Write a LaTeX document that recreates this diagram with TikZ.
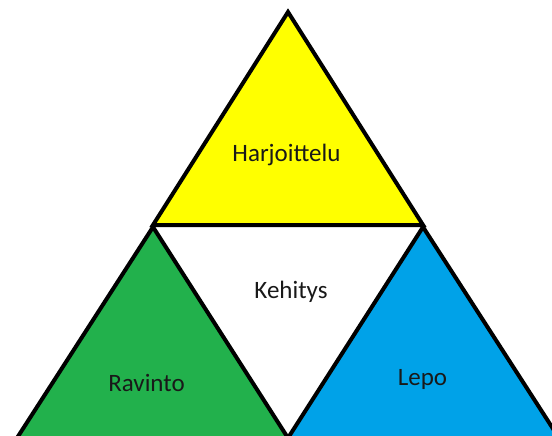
\documentclass[tikz,border=0pt]{standalone}
\usepackage{fontspec}
\setmainfont{Carlito}
\definecolor{pyellow}{RGB}{255,255,0}
\definecolor{pgreen}{RGB}{34,177,76}
\definecolor{pblue}{RGB}{0,162,232}
\tikzset{
  tri/.style={draw=black, line width=4pt, line join=miter},
  lbl/.style={anchor=base, inner sep=0pt, font=\fontsize{25}{30}\selectfont, text=black!90}
}
\begin{document}
\begin{tikzpicture}[x=1pt,y=-1pt]
\useasboundingbox (0,0) rectangle (552,436);
\clip (0,0) rectangle (552,436);
\fill[white] (0,0) rectangle (552,436);
% yellow top triangle
\coordinate (A) at (288,12);
\coordinate (L) at (153,225);
\coordinate (R) at (423,225);
\filldraw[tri, fill=pyellow] (A) -- (L) -- (R) -- cycle;
% green left triangle
\coordinate (G1) at (153,227);
\coordinate (M) at (288,438);
\coordinate (G3) at (17,438);
\filldraw[tri, fill=pgreen] (G1) -- (M) -- (G3) -- cycle;
% blue right triangle
\coordinate (B1) at (423,227);
\coordinate (B3) at (559,438);
\filldraw[tri, fill=pblue] (B1) -- (M) -- (B3) -- cycle;
% labels
\node[lbl] (harj) at (286.5,161) {Harjoittelu};
\node[lbl] (keh) at (291,298) {Kehitys};
\node[lbl] (rav) at (146.5,391) {Ravinto};
\node[lbl] (lepo) at (422.5,385) {Lepo};
\end{tikzpicture}
\end{document}
